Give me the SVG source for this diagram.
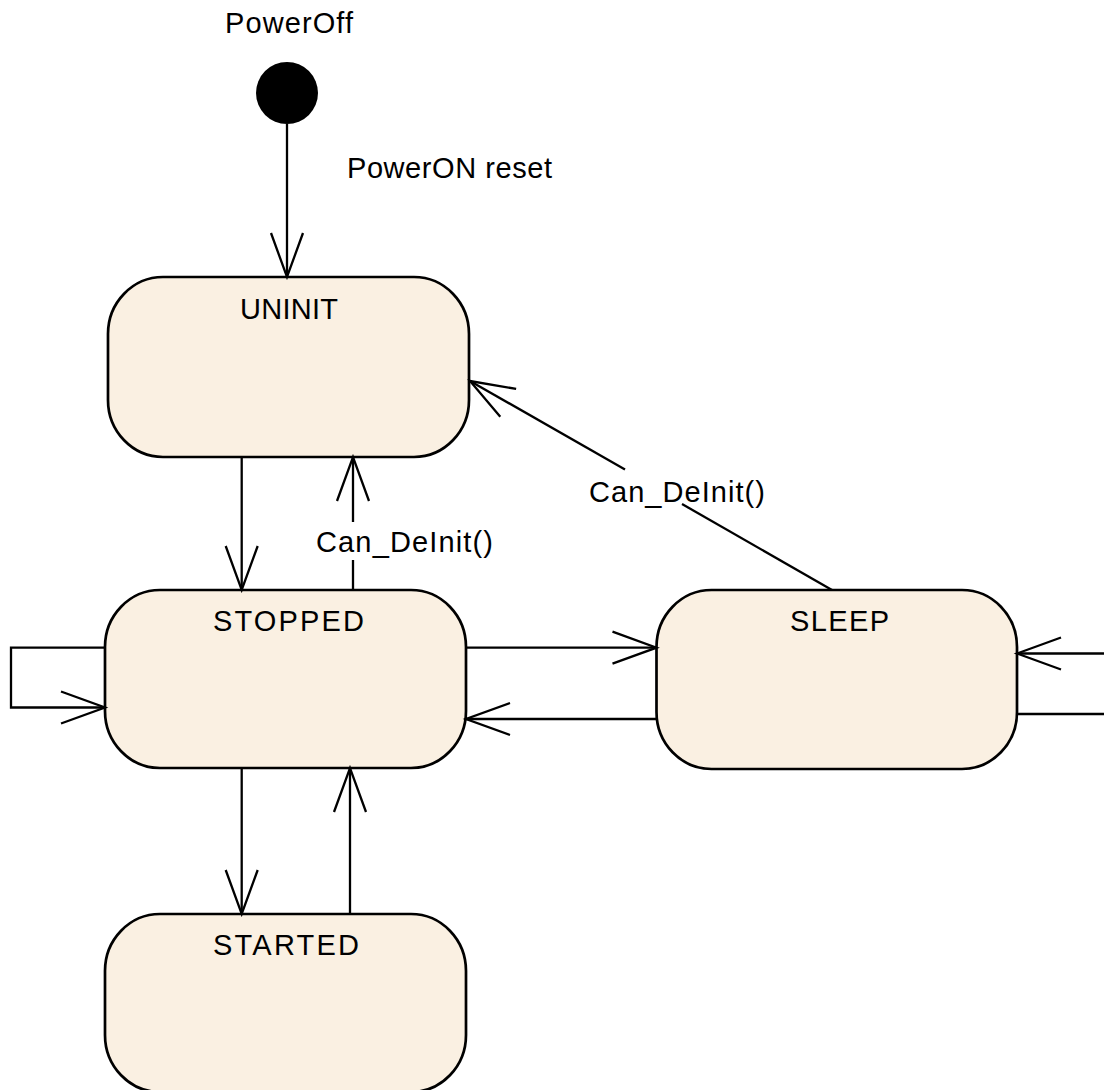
<svg xmlns="http://www.w3.org/2000/svg" width="1104" height="1090" viewBox="0 0 1104 1090">
<style>
.node rect{fill:#FAF0E2;stroke:#000;stroke-width:2.7}
text{font-family:"Liberation Sans",Arial,sans-serif;font-size:29px;fill:#000}
.edge{fill:none;stroke:#000;stroke-width:2.3}
</style>
<defs>
<marker id="open" markerUnits="userSpaceOnUse" markerWidth="60" markerHeight="40" viewBox="-50 -20 60 40" refX="0" refY="0" orient="auto" overflow="visible">
<path d="M-44,-16 L0,0 L-44,16" fill="none" stroke="#000" stroke-width="2.3"/>
</marker>
</defs>
<rect width="1104" height="1090" fill="#fff"/>
<g id="initial">
<circle cx="287" cy="93" r="31" fill="#000"/>
<text x="225" y="33" textLength="128" lengthAdjust="spacing">PowerOff</text>
</g>
<g id="UNINIT" class="node">
<rect x="108" y="277" width="361" height="180" rx="55" ry="57"/>
<text x="240" y="319" textLength="98" lengthAdjust="spacing">UNINIT</text>
</g>
<g id="STOPPED" class="node">
<rect x="105" y="590" width="361" height="178" rx="55" ry="57"/>
<text x="213" y="631" textLength="151" lengthAdjust="spacing">STOPPED</text>
</g>
<g id="SLEEP" class="node">
<rect x="656.5" y="590" width="360.5" height="179" rx="55" ry="57"/>
<text x="790" y="631" textLength="99" lengthAdjust="spacing">SLEEP</text>
</g>
<g id="STARTED" class="node">
<rect x="105" y="914" width="361" height="178" rx="55" ry="57"/>
<text x="213" y="955" textLength="146" lengthAdjust="spacing">STARTED</text>
</g>
<g id="connectors">
<path class="edge" d="M287,124 V277" marker-end="url(#open)"/>
<text x="347" y="178" textLength="205" lengthAdjust="spacing">PowerON reset</text>
<path class="edge" d="M241.7,457 V590" marker-end="url(#open)"/>
<path class="edge" d="M353,590 V560"/>
<path class="edge" d="M353,522 V457" marker-end="url(#open)"/>
<text x="316" y="552" textLength="177" lengthAdjust="spacing">Can_DeInit()</text>
<path class="edge" d="M832,590 L682,504"/>
<path class="edge" d="M625,469.5 L470,381" marker-end="url(#open)"/>
<text x="589" y="502" textLength="176" lengthAdjust="spacing">Can_DeInit()</text>
<path class="edge" d="M466,647.7 H656.5" marker-end="url(#open)"/>
<path class="edge" d="M656.5,719 H466" marker-end="url(#open)"/>
<path class="edge" d="M241.7,768 V914" marker-end="url(#open)"/>
<path class="edge" d="M350,914 V768" marker-end="url(#open)"/>
<path class="edge" d="M105,647.7 H11 V707.5 H105" marker-end="url(#open)"/>
<path class="edge" d="M1017,714 H1120 V653.5 H1017" marker-end="url(#open)"/>
</g>
</svg>
